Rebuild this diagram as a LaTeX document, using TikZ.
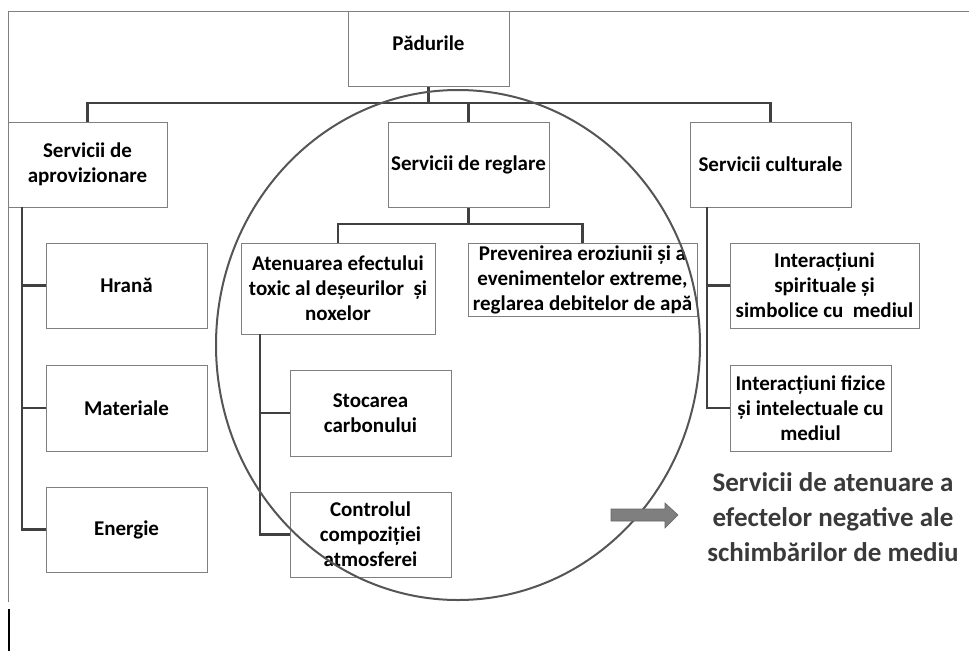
\documentclass[tikz,border=0pt]{standalone}
\usepackage{fontspec}
\setmainfont{Carlito}
\definecolor{boxgray}{HTML}{7F7F7F}
\definecolor{conngray}{HTML}{404040}
\definecolor{circgray}{HTML}{555555}
\definecolor{bigtext}{HTML}{3A3A3A}
\definecolor{arrfill}{HTML}{7F7F7F}
\begin{document}
\begin{tikzpicture}[x=1pt,y=-1pt,
  box/.style={draw=boxgray, line width=1pt, fill=white, inner sep=0pt, align=center,
    font=\fontsize{21}{25}\selectfont\bfseries, text=black},
  txt/.style={inner sep=0pt, align=center, font=\fontsize{21}{25}\selectfont\bfseries, text=black},
  conn/.style={draw=conngray, line width=2.5pt},
  frame/.style={draw=boxgray, line width=1pt}]
\useasboundingbox (0,0) rectangle (969,651);
% frame
\draw[frame] (969,11) -- (8,11) -- (8,602);
\draw[black, line width=1.2pt] (9,609) -- (9,651);
% top level
\node[box, minimum width=161pt, minimum height=75pt] (pad) at (428.5,48.5) {};
\node[txt] (padtext) at (428.5,43) {Pădurile};
\node[box, minimum width=159pt, minimum height=85pt] (aprov) at (87.5,164.5) {Servicii de\\aprovizionare};
\node[box, minimum width=161pt, minimum height=85pt] (regl) at (468.5,164.5) {Servicii de reglare};
\node[box, minimum width=161pt, minimum height=85pt] (cult) at (770.5,164.5) {Servicii culturale};
% provisioning
\node[box, minimum width=161pt, minimum height=85pt] (hrana) at (126.5,285.5) {Hrană};
\node[box, minimum width=161pt, minimum height=86pt] (mat) at (126.5,408) {Materiale};
\node[box, minimum width=161pt, minimum height=85pt] (energ) at (126.5,529.5) {Energie};
% regulating
\node[box, minimum width=194pt, minimum height=91pt] (aten) at (338,288.5) {Atenuarea efectului\\toxic al deșeurilor~ și\\noxelor};
\node[box, minimum width=229pt, minimum height=73pt] (prev) at (582.5,279.5) {Prevenirea eroziunii și a\\evenimentelor extreme,\\reglarea debitelor de apă};
\node[box, minimum width=161pt, minimum height=86pt] (stoc) at (370.5,413) {Stocarea\\carbonului};
\node[box, minimum width=161pt, minimum height=85pt] (contr) at (370.5,534.5) {Controlul\\compoziției\\atmosferei};
% cultural
\node[box, minimum width=189pt, minimum height=85pt] (spir) at (824.5,285.5) {Interacțiuni\\spirituale și\\simbolice cu~ mediul};
\node[box, minimum width=161pt, minimum height=86pt] (fiz) at (810.5,408) {Interacțiuni fizice\\și intelectuale cu\\mediul};
% connectors
\coordinate (bus) at (0,103);
\draw[conn] (pad.south) -- (pad.south |- bus);
\draw[conn] (aprov.north) -- (aprov.north |- bus) -- (cult.north |- bus) -- (cult.north);
\draw[conn] (regl.north |- bus) -- (regl.north);
\coordinate (rbus) at (0,224);
\draw[conn] (regl.south) -- (regl.south |- rbus);
\draw[conn] (aten.north) -- (aten.north |- rbus) -- (prev.north |- rbus) -- (prev.north);
\coordinate (ltrunk) at (22,207);
\draw[conn] (ltrunk) |- (energ.west);
\draw[conn] (ltrunk |- hrana.west) -- (hrana.west);
\draw[conn] (ltrunk |- mat.west) -- (mat.west);
\coordinate (atrunk) at (260,334);
\draw[conn] (atrunk) |- (contr.west);
\draw[conn] (atrunk |- stoc.west) -- (stoc.west);
\coordinate (ctrunk) at (707,207);
\draw[conn] (ctrunk) |- (fiz.west);
\draw[conn] (ctrunk |- spir.west) -- (spir.west);
% ellipse
\draw[circgray, line width=2pt] (458,345) ellipse [x radius=242pt, y radius=255pt];
% block arrow
\fill[arrfill, draw=conngray!80, line width=0.6pt] (611,509) -- (665,509) -- (665,503) -- (678,515) -- (665,528) -- (665,521) -- (611,521) -- cycle;
\node[inner sep=0pt, align=center, font=\fontsize{27}{35}\selectfont\bfseries, text=bigtext] (note) at (833,517) {Servicii de atenuare a\\efectelor negative ale\\schimbărilor de mediu};
\end{tikzpicture}
\end{document}
